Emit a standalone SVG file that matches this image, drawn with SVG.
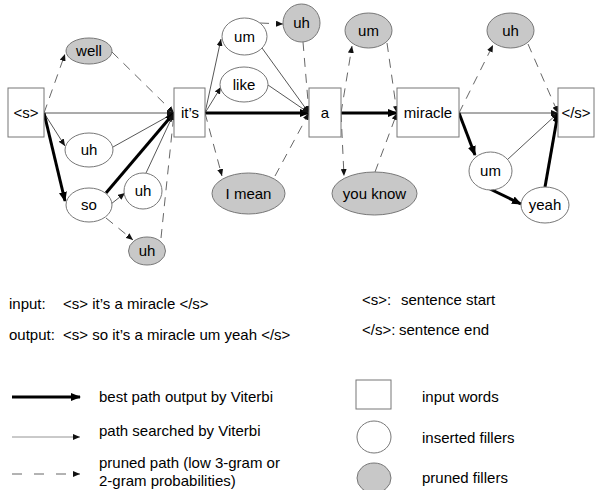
<svg xmlns="http://www.w3.org/2000/svg" width="595" height="490" viewBox="0 0 595 490">
<style>
text{font-family:"Liberation Sans",Arial,sans-serif;font-size:15px;fill:#000}
.c{text-anchor:middle}
.box{fill:#fff;stroke:#777;stroke-width:1}
.ins{fill:#fff;stroke:#777;stroke-width:1}
.prn{fill:#c8c8c8;stroke:#777;stroke-width:1}
.thin{fill:none;stroke:#444;stroke-width:0.9;marker-end:url(#mt)}
.thick{fill:none;stroke:#000;stroke-width:3;marker-end:url(#mk)}
.dash{fill:none;stroke:#555;stroke-width:0.9;stroke-dasharray:9,7;marker-end:url(#mt)}
</style>
<defs>
<marker id="mt" markerUnits="userSpaceOnUse" markerWidth="7" markerHeight="6" refX="7" refY="3" orient="auto"><path d="M0,0 L7,3 L0,6 z" fill="#111"/></marker>
<marker id="mk" markerUnits="userSpaceOnUse" markerWidth="10" markerHeight="8" refX="9" refY="4" orient="auto"><path d="M0,0 L10,4 L0,8 z" fill="#000"/></marker>
</defs>
<rect width="595" height="490" fill="#fff"/>
<g id="connectors">
<path class="dash" d="M44,113 L65,54"/>
<path class="dash" d="M112,52 L174,113"/>
<path class="thin" d="M44,113 L174,113"/>
<path class="thin" d="M44,113 L65,146"/>
<path class="thick" d="M44,113 L65,201"/>
<path class="thin" d="M113,147 L174,113"/>
<path class="thick" d="M106,193 L174,113"/>
<path class="thin" d="M111,204 L125,193"/>
<path class="thin" d="M146,173 L174,113"/>
<path class="dash" d="M106,218 L133,240"/>
<path class="dash" d="M161,238 L174,113"/>
<path class="thin" d="M205,113 L221,39"/>
<path class="thin" d="M205,113 L221,87"/>
<path class="thick" d="M205,113 L309,113"/>
<path class="dash" d="M205,113 L222,176"/>
<path class="dash" d="M260,23 L283,24"/>
<path class="thin" d="M262,48 L309,113"/>
<path class="thin" d="M268,85 L309,113"/>
<path class="dash" d="M303,42 L309,113"/>
<path class="dash" d="M275,176 L309,113"/>
<path class="thick" d="M341,113 L397,113"/>
<path class="dash" d="M341,113 L352,46"/>
<path class="dash" d="M387,43 L397,113"/>
<path class="dash" d="M341,113 L344,176"/>
<path class="dash" d="M375,172 L397,113"/>
<path class="dash" d="M459,113 L493,45"/>
<path class="dash" d="M528,44 L558,113"/>
<path class="thin" d="M459,113 L558,113"/>
<path class="thick" d="M459,113 L475,155"/>
<path class="thin" d="M507,160 L558,113"/>
<path class="thick" d="M490,189 L521,204"/>
<path class="thick" d="M545,187 L558,113"/>
</g>
<g id="n_s"><rect class="box" x="8" y="88" width="36" height="49"/><text class="c" x="26" y="118">&lt;s&gt;</text></g>
<g id="n_its"><rect class="box" x="174" y="88" width="31" height="49"/><text class="c" x="190" y="118">it’s</text></g>
<g id="n_a"><rect class="box" x="309" y="88" width="32" height="49"/><text class="c" x="325" y="118">a</text></g>
<g id="n_miracle"><rect class="box" x="397" y="88" width="62" height="49"/><text class="c" x="428" y="118">miracle</text></g>
<g id="n_end"><rect class="box" x="558" y="88" width="36" height="49"/><text class="c" x="576" y="118">&lt;/s&gt;</text></g>
<g id="n_well"><ellipse class="prn" cx="89" cy="51" rx="23" ry="13"/><text class="c" x="89" y="56">well</text></g>
<g id="n_uh1"><ellipse class="ins" cx="89" cy="150" rx="24" ry="17"/><text class="c" x="89" y="155">uh</text></g>
<g id="n_so"><ellipse class="ins" cx="89" cy="205" rx="23" ry="17"/><text class="c" x="89" y="210">so</text></g>
<g id="n_uh2"><ellipse class="ins" cx="143" cy="191" rx="19" ry="18"/><text class="c" x="143" y="196">uh</text></g>
<g id="n_uh3"><ellipse class="prn" cx="147" cy="251" rx="18.5" ry="14"/><text class="c" x="147" y="256">uh</text></g>
<g id="n_um1"><ellipse class="ins" cx="244.5" cy="36.5" rx="22.5" ry="18.5"/><text class="c" x="244.5" y="42">um</text></g>
<g id="n_like"><ellipse class="ins" cx="244" cy="84.5" rx="24" ry="17.5"/><text class="c" x="244" y="90">like</text></g>
<g id="n_imean"><ellipse class="prn" cx="248.5" cy="193.5" rx="36.5" ry="20.5"/><text class="c" x="248.5" y="199">I mean</text></g>
<g id="n_uh4"><ellipse class="prn" cx="301.5" cy="23" rx="18.5" ry="19"/><text class="c" x="301.5" y="28">uh</text></g>
<g id="n_um2"><ellipse class="prn" cx="368.5" cy="30.5" rx="23.5" ry="17.5"/><text class="c" x="368.5" y="36">um</text></g>
<g id="n_youknow"><ellipse class="prn" cx="374.5" cy="193.5" rx="42.5" ry="21.5"/><text class="c" x="374.5" y="199">you know</text></g>
<g id="n_uh5"><ellipse class="prn" cx="510.5" cy="30.5" rx="23.5" ry="17.5"/><text class="c" x="510.5" y="36">uh</text></g>
<g id="n_um3"><ellipse class="ins" cx="490.5" cy="171" rx="21.5" ry="19"/><text class="c" x="490.5" y="176">um</text></g>
<g id="n_yeah"><ellipse class="ins" cx="545" cy="205" rx="24" ry="18"/><text class="c" x="545" y="210">yeah</text></g>
<g id="legend">
<text x="9" y="309">input:</text>
<text x="63" y="309">&lt;s&gt; it’s a miracle &lt;/s&gt;</text>
<text x="9" y="340">output:</text>
<text x="63" y="340">&lt;s&gt; so it’s a miracle um yeah &lt;/s&gt;</text>
<text x="362" y="305">&lt;s&gt;:<tspan x="401">sentence start</tspan></text>
<text x="362" y="335">&lt;/s&gt;:<tspan x="399">sentence end</tspan></text>
<path class="thick" d="M12,397 L80,397"/>
<text x="99" y="402">best path output by Viterbi</text>
<path class="thin" d="M12,437 L80,437" style="stroke:#888"/>
<text x="99" y="436">path searched by Viterbi</text>
<path class="dash" d="M12,474 L80,474" style="stroke-dasharray:10,12"/>
<text x="99" y="468">pruned path (low 3-gram or</text>
<text x="99" y="486">2-gram probabilities)</text>
<rect class="box" x="356" y="380" width="35" height="29"/>
<text x="422" y="402">input words</text>
<ellipse class="ins" cx="374" cy="437" rx="17" ry="16"/>
<text x="422" y="443">inserted fillers</text>
<ellipse class="prn" cx="374" cy="478" rx="17" ry="15"/>
<text x="422" y="483">pruned fillers</text>
</g>
</svg>
